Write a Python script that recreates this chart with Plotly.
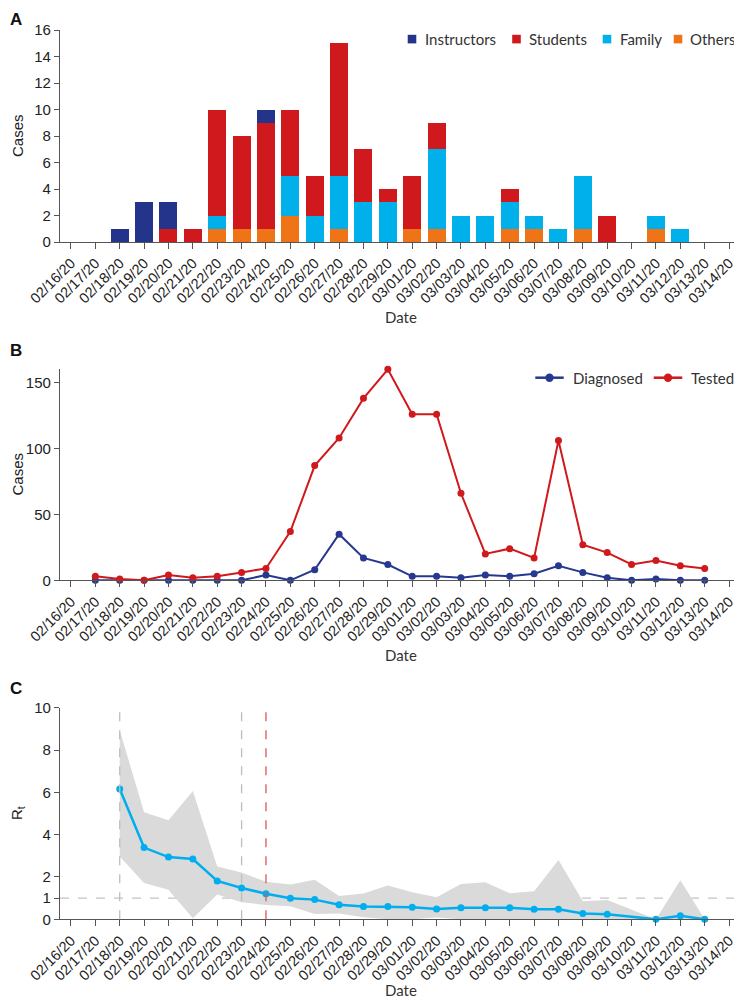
import plotly.graph_objects as go

dates = ["02/16/20","02/17/20","02/18/20","02/19/20","02/20/20","02/21/20","02/22/20",
         "02/23/20","02/24/20","02/25/20","02/26/20","02/27/20","02/28/20","02/29/20",
         "03/01/20","03/02/20","03/03/20","03/04/20","03/05/20","03/06/20","03/07/20",
         "03/08/20","03/09/20","03/10/20","03/11/20","03/12/20","03/13/20","03/14/20"]

# Panel A: stacked cases by group
others      = [0,0,0,0,0,0,1,1,1,2,0,1,0,0,1,1,0,0,1,1,0,1,0,0,1,0,0,0]
family      = [0,0,0,0,0,0,1,0,0,3,2,4,3,3,0,6,2,2,2,1,1,4,0,0,1,1,0,0]
students    = [0,0,0,0,1,1,8,7,8,5,3,10,4,1,4,2,0,0,1,0,0,0,2,0,0,0,0,0]
instructors = [0,0,1,3,2,0,0,0,1,0,0,0,0,0,0,0,0,0,0,0,0,0,0,0,0,0,0,0]

# Panel B: daily diagnosed / tested (02/17 .. 03/13)
b_dates   = dates[1:27]
diagnosed = [0,0,0,0,0,0,0,4,0,8,35,17,12,3,3,2,4,3,5,11,6,2,0,1,0,0]
tested    = [3,1,0,4,2,3,6,9,37,87,108,138,160,126,126,66,20,24,17,106,27,21,12,15,11,9]

# Panel C: Rt with interval (02/18 .. 03/13), None = not estimated
c_dates  = dates[2:27]
rt       = [6.16,3.39,2.94,2.85,1.81,1.48,1.21,1.0,0.93,0.69,0.61,0.6,
            0.57,0.49,0.54,0.54,0.54,0.47,0.47,0.27,0.24,None,0.0,0.17,0.0]
rt_upper = [8.94,5.06,4.68,6.06,2.49,2.21,1.77,1.64,1.87,1.1,1.22,1.6,
            1.28,1.04,1.67,1.75,1.23,1.32,2.8,0.85,0.91,None,0.0,1.84,0.0]
rt_lower = [2.97,1.72,1.4,0.05,1.17,0.8,0.68,0.62,0.25,0.28,0.1,0.0,
            0.0,0.08,0.0,0.0,0.0,0.0,0.0,0.0,0.0,None,0.0,0.0,0.0]

C_INS, C_STU, C_FAM, C_OTH = "#25348b", "#d0191c", "#00b0ea", "#ef7418"
C_DIAG, C_TEST, C_RT = "#26398f", "#d0191c", "#00aeef"

# the page body has an 8px margin, so the figure starts at (8, 8) in the window
OFF = 8
W, H = 742 - OFF, 1000 - OFF
fig = go.Figure()

def px_x(p):
    return (p - OFF) / W

def px_y(p):
    return 1 - (p - OFF) / H

SANS = "Arial"
TICKFONT = dict(family=SANS, size=15, color="#222")
XTICKFONT = dict(family=SANS, size=14.5, color="#222")
LEGFAM = "Lato"

# ---- Panel A bars (bottom to top)
for name, vals, col in [("Others", others, C_OTH), ("Family", family, C_FAM),
                        ("Students", students, C_STU), ("Instructors", instructors, C_INS)]:
    fig.add_trace(go.Bar(x=dates, y=vals, name=name, marker=dict(color=col, line=dict(width=0)),
                         width=0.74, xaxis="x", yaxis="y", showlegend=False))

# ---- Panel B lines
fig.add_trace(go.Scatter(x=b_dates, y=diagnosed, name="Diagnosed", mode="lines+markers",
                         line=dict(color=C_DIAG, width=2), marker=dict(size=7, color=C_DIAG),
                         cliponaxis=False, xaxis="x2", yaxis="y2", showlegend=False))
fig.add_trace(go.Scatter(x=b_dates, y=tested, name="Tested", mode="lines+markers",
                         line=dict(color=C_TEST, width=2), marker=dict(size=7, color=C_TEST),
                         cliponaxis=False, xaxis="x2", yaxis="y2", showlegend=False))

# ---- Panel C band + Rt
bx_up = [d for d, u in zip(c_dates, rt_upper) if u is not None]
by_up = [u for u in rt_upper if u is not None]
bx_lo = [d for d, l in zip(c_dates, rt_lower) if l is not None]
by_lo = [l for l in rt_lower if l is not None]
fig.add_trace(go.Scatter(x=bx_up + bx_lo[::-1], y=by_up + by_lo[::-1], fill="toself",
                         fillcolor="#dadada", line=dict(width=0), mode="lines",
                         showlegend=False, hoverinfo="skip", xaxis="x3", yaxis="y3"))
fig.add_trace(go.Scatter(x=c_dates, y=rt, mode="lines+markers", connectgaps=True,
                         line=dict(color=C_RT, width=2.5), marker=dict(size=7, color=C_RT),
                         cliponaxis=False, showlegend=False, xaxis="x3", yaxis="y3"))

xrange = [-0.45, 27.53]
xdom = [px_x(60), 1.0]
common_x = dict(type="category", categoryorder="array", categoryarray=dates, range=xrange,
                domain=xdom, tickangle=-45, tickfont=XTICKFONT, ticks="outside", ticklen=6,
                tickcolor="#555", showline=True, linecolor="#555", linewidth=1.2,
                showgrid=False, zeroline=False, tickmode="array", tickvals=dates, ticktext=dates,
                automargin=False)
common_y = dict(tickfont=TICKFONT, ticks="outside", ticklen=5, tickcolor="#555",
                showline=True, linecolor="#555", linewidth=1.2, showgrid=False, zeroline=False,
                automargin=False)

fig.update_layout(
    template="none",
    width=W, height=H, margin=dict(l=0, r=0, t=0, b=0, pad=0),
    paper_bgcolor="white", plot_bgcolor="white", barmode="stack",
    xaxis=dict(common_x, anchor="y"),
    yaxis=dict(common_y, domain=[px_y(242), px_y(30)], range=[0, 16], dtick=2, anchor="x"),
    xaxis2=dict(common_x, anchor="y2"),
    yaxis2=dict(common_y, domain=[px_y(580.3), px_y(368.7)], range=[0, 160.5],
                tickvals=[0, 50, 100, 150], anchor="x2"),
    xaxis3=dict(common_x, anchor="y3"),
    yaxis3=dict(common_y, domain=[px_y(919.3), px_y(707.7)], range=[0, 10],
                tickvals=[0, 1, 2, 4, 6, 8, 10], anchor="x3"),
    showlegend=False,
)

shapes = []
# reference lines in panel C
for d, col in [("02/18/20", "#bdbdbd"), ("02/23/20", "#bdbdbd"), ("02/24/20", "#e05555")]:
    shapes.append(dict(type="line", xref="x3", yref="y3 domain", x0=d, x1=d, y0=0, y1=1,
                       line=dict(color=col, width=1.3, dash="dash"), layer="above"))
shapes.append(dict(type="line", xref="x3 domain", yref="y3", x0=0, x1=1, y0=1, y1=1,
                   line=dict(color="#c4c4c4", width=1.2, dash="dash"), layer="below"))

ann = []
# legend A (manual)
for name, col, cx, tx in [("Instructors", C_INS, 412, 422.5), ("Students", C_STU, 516.5, 527),
                          ("Family", C_FAM, 607, 617.5), ("Others", C_OTH, 678, 688)]:
    shapes.append(dict(type="rect", xref="paper", yref="paper",
                       x0=px_x(cx - 4.3), x1=px_x(cx + 4.3), y0=px_y(43.4), y1=px_y(34.8),
                       fillcolor=col, line=dict(width=0)))
    ann.append(dict(text=name, x=px_x(tx), y=px_y(39.5), xref="paper", yref="paper",
                    xanchor="left", yanchor="middle", showarrow=False,
                    font=dict(family=LEGFAM, size=15, color="#333")))
# legend B (manual)
for name, col, lx0, lx1, mx, tx in [("Diagnosed", C_DIAG, 535.3, 563.7, 549.5, 570.7),
                                    ("Tested", C_TEST, 653.7, 682.3, 668, 688.7)]:
    shapes.append(dict(type="line", xref="paper", yref="paper",
                       x0=px_x(lx0), x1=px_x(lx1), y0=px_y(377.7), y1=px_y(377.7),
                       line=dict(color=col, width=2.5)))
    shapes.append(dict(type="circle", xref="paper", yref="paper",
                       x0=px_x(mx - 4.2), x1=px_x(mx + 4.2), y0=px_y(381.9), y1=px_y(373.5),
                       fillcolor=col, line=dict(width=0)))
    ann.append(dict(text=name, x=px_x(tx), y=px_y(377.7), xref="paper", yref="paper",
                    xanchor="left", yanchor="middle", showarrow=False,
                    font=dict(family=LEGFAM, size=15, color="#333")))
fig.update_layout(shapes=shapes)

for lab, ytop in [("A", 3), ("B", 339), ("C", 677)]:
    ann.append(dict(text="<b>%s</b>" % lab, x=0, y=px_y(max(ytop, OFF)), xref="paper", yref="paper",
                    xanchor="left", yanchor="top", showarrow=False,
                    font=dict(family=SANS, size=17, color="#111")))
for yc in [317, 655, 990]:
    ann.append(dict(text="Date", x=px_x(401), y=px_y(yc), xref="paper", yref="paper",
                    xanchor="center", yanchor="middle", showarrow=False,
                    font=dict(family=LEGFAM, size=15, color="#333")))
for txt, yc in [("Cases", 136), ("Cases", 474.5), ("R<sub>t</sub>", 813)]:
    ann.append(dict(text=txt, x=px_x(17), y=px_y(yc), xref="paper", yref="paper",
                    xanchor="center", yanchor="middle", textangle=-90, showarrow=False,
                    font=dict(family=SANS, size=15, color="#222")))
fig.update_layout(annotations=ann)

fig.write_html("out.html")
